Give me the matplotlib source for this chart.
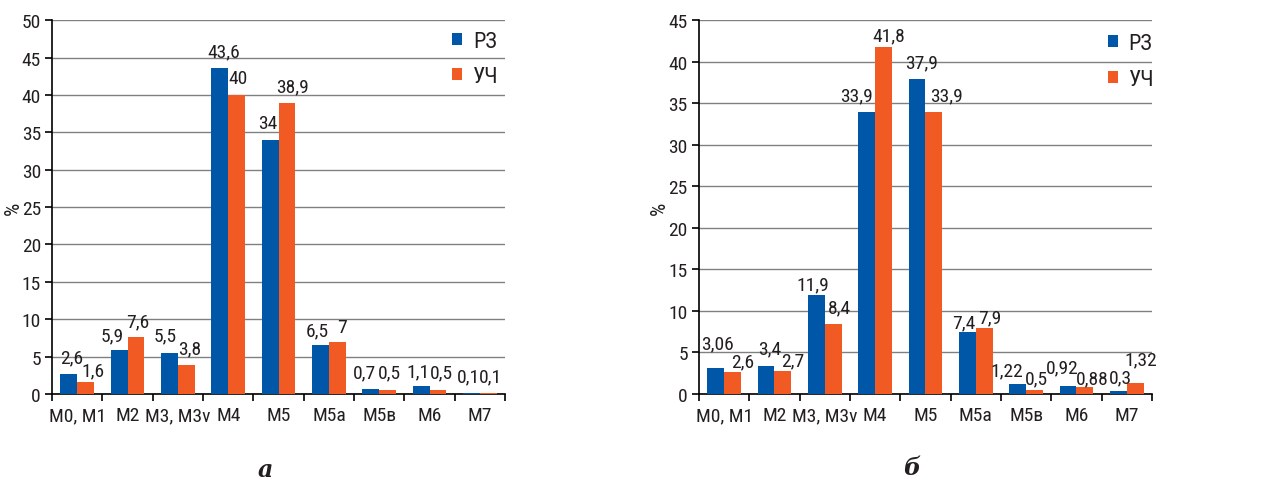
import matplotlib
matplotlib.use("Agg")
import matplotlib.pyplot as plt
import numpy as np
from matplotlib import font_manager

categories = ["М0, М1", "М2", "М3, М3v", "М4", "М5", "М5а", "М5в", "М6", "М7"]
series_names = ["РЗ", "УЧ"]
a_rz = [2.6, 5.9, 5.5, 43.6, 34, 6.5, 0.7, 1.1, 0.1]
a_uch = [1.6, 7.6, 3.8, 40, 38.9, 7, 0.5, 0.5, 0.1]
b_rz = [3.06, 3.4, 11.9, 33.9, 37.9, 7.4, 1.22, 0.92, 0.3]
b_uch = [2.6, 2.7, 8.4, 41.8, 33.9, 7.9, 0.5, 0.88, 1.32]
a_yticks = list(range(0, 51, 5))
b_yticks = list(range(0, 46, 5))
panel_labels = ["а", "б"]

# label placement nudges (pixels): horizontal shift, baseline gap above bar
a_rz_nudge = [(3, 12), (-7, 9), (-4, 12), (4, 12), (-2, 12), (-3, 10), (-6, 11), (-3, 9), (-3, 12)]
a_uch_nudge = [(7, 7), (2, 11), (3, 12), (1, 12), (5, 12), (5, 10), (2, 13), (3, 13), (2, 12)]
b_rz_nudge = [(2, 20), (4, 12), (-4, 6), (-10, 12), (5, 12), (-4, 5), (-11, 8), (-6, 14), (2, 9)]
b_uch_nudge = [(10, 6), (10, 6), (6, 12), (5, 6), (13, 12), (6, 6), (2, 6), (7, 3), (6, 19)]

names = {f.name for f in font_manager.fontManager.ttflist}
fam = None
for cand in ["Roboto Condensed", "PT Sans Narrow", "Archivo Narrow", "Liberation Sans Narrow"]:
    if cand in names:
        fam = cand
        break
if fam is None:
    fam = "Open Sans"
    plt.rcParams['font.stretch'] = 'condensed'
plt.rcParams['font.family'] = [fam, 'DejaVu Sans']

BLUE = "#0057A8"
ORANGE = "#F15A22"
GRID = "#808080"
TXT = "#231f20"
FS = 14
PX = 72 / 100

fig = plt.figure(figsize=(12.82, 4.81), dpi=100)

def panel(rect, rz, uch, nudges, yticks, leg_anchor, ylab_x):
    ax = fig.add_axes(rect)
    x = np.arange(len(categories))
    w = 0.335
    b1 = ax.bar(x - w/2, rz, w, color=BLUE, label=series_names[0], zorder=3)
    b2 = ax.bar(x + w/2, uch, w, color=ORANGE, label=series_names[1], zorder=3)
    for bars, vals, nud in ((b1, rz, nudges[0]), (b2, uch, nudges[1])):
        for bar, v, (dx, dy) in zip(bars, vals, nud):
            ax.annotate(f"{v:g}".replace('.', ','),
                        (bar.get_x() + bar.get_width()/2, bar.get_height()),
                        xytext=(dx * PX, dy * PX), textcoords="offset points",
                        ha="center", va="baseline", fontsize=FS, color=TXT,
                        annotation_clip=False)
    ax.set_xlim(-0.5, len(categories) - 0.5)
    ax.set_ylim(0, yticks[-1])
    ax.set_yticks(yticks)
    ax.yaxis.grid(True, color=GRID, linewidth=1.0, zorder=0)
    ax.set_axisbelow(True)
    ax.set_xticks(np.arange(len(categories) + 1) - 0.5)
    ax.set_xticklabels([])
    ax.set_xticks(x, minor=True)
    ax.set_xticklabels(categories, minor=True, fontsize=FS, color=TXT)
    ax.tick_params(axis='x', which='minor', length=0, pad=9)
    ax.tick_params(axis='x', which='major', length=5, width=1.2, direction='out')
    ax.tick_params(axis='y', length=5, width=1.2, direction='out', labelsize=FS,
                   pad=3, labelcolor=TXT)
    for s in ("top", "right"):
        ax.spines[s].set_visible(False)
    for s in ("left", "bottom"):
        ax.spines[s].set_linewidth(1.2)
    ax.set_ylabel("%", fontsize=15, color=TXT)
    ax.yaxis.set_label_coords(ylab_x, 0.5)
    ax.legend(loc="upper left", frameon=False, fontsize=16, handlelength=0.45,
              handleheight=0.45, handletextpad=0.5, labelspacing=0.65,
              borderaxespad=0, borderpad=0, bbox_to_anchor=leg_anchor,
              labelcolor=TXT)
    return ax

panel([0.0406, 0.179, 0.3534, 0.777], a_rz, a_uch, (a_rz_nudge, a_uch_nudge),
      a_yticks, (0.882, 0.972), -0.064)
panel([0.5452, 0.179, 0.3534, 0.777], b_rz, b_uch, (b_rz_nudge, b_uch_nudge),
      b_yticks, (0.902, 0.965), -0.066)

fig.text(265/1282, 1 - 470/481, panel_labels[0], ha="center", va="center",
         fontsize=17, fontweight="bold", fontstyle="italic", family="DejaVu Serif", color=TXT)
fig.text(912/1282, 1 - 468/481, panel_labels[1], ha="center", va="center",
         fontsize=17, fontweight="bold", fontstyle="italic", family="DejaVu Serif", color=TXT)

fig.savefig("out.png", dpi=100)
